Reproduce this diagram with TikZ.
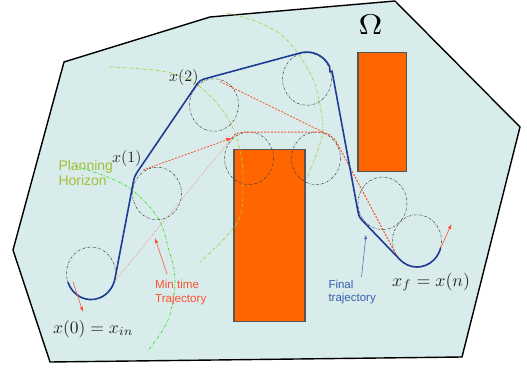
\documentclass[tikz,border=0pt]{standalone}
\usepackage{graphicx}
\usepackage{fontspec}
\newfontfamily\labfont{Liberation Sans}
\usetikzlibrary{arrows.meta,calc}
\definecolor{domfill}{RGB}{216,236,236}
\definecolor{obst}{RGB}{255,102,0}
\definecolor{obstborder}{RGB}{85,85,85}
\definecolor{trajblue}{RGB}{30,60,150}
\definecolor{labblue}{RGB}{55,95,175}
\definecolor{minred}{RGB}{255,80,45}
\definecolor{minredlight}{RGB}{255,125,100}
\definecolor{horgreen}{RGB}{170,205,60}
\definecolor{brightgreen}{RGB}{60,225,40}
\definecolor{plantext}{RGB}{165,190,55}
\tikzset{
  domainpoly/.style={draw=black, line width=1.4pt, fill=domfill, line join=miter},
  obstacle/.style={draw=obstborder, line width=1.1pt, fill=obst},
  turncircle/.style={draw=black!75, line width=0.55pt, dash pattern=on 2.2pt off 1.3pt on 0.5pt off 1.3pt},
  finaltraj/.style={draw=trajblue, line width=1.6pt, line cap=round, line join=round},
  mintraj/.style={draw=minred, line width=0.8pt, dash pattern=on 2pt off 1.4pt},
  mintrajfaint/.style={draw=minredlight, line width=0.6pt, dash pattern=on 1pt off 1.5pt},
  horizonarc/.style={draw=horgreen, line width=0.7pt, dash pattern=on 3pt off 1.5pt on 0.6pt off 1.5pt},
  horizonbright/.style={draw=brightgreen, line width=0.7pt, dash pattern=on 3pt off 1.5pt on 0.6pt off 1.5pt},
  redarrow/.style={draw=minred, line width=0.6pt, -{Latex[length=5pt,width=3.5pt]}},
  bluearrow/.style={draw=labblue, line width=0.5pt, -{Latex[length=4pt,width=3pt]}},
  mathlabel/.style={inner sep=0pt, anchor=base west, text=black!85, font=\fontsize{10}{12}\selectfont},
  textlabel/.style={inner sep=0pt, anchor=north west, align=left},
}
\begin{document}
\begin{tikzpicture}[x=1pt,y=-1pt]
\useasboundingbox (0,0) rectangle (527,371);
% domain
\draw[domainpoly] (64,62) -- (210,17) -- (395,1) -- (520,127) -- (462,357) -- (50,362) -- (13,250) -- cycle;
% obstacles
\draw[obstacle] (234,149.3) rectangle (305,321.7);
\draw[obstacle] (358,52.3) rectangle (406.7,171.7);
% circle centres
\coordinate (c0) at (91,273.3);
\coordinate (c1) at (157,193.5);
\coordinate (c2) at (214,105);
\coordinate (c3) at (307,79);
\coordinate (c4) at (249,158.3);
\coordinate (c5) at (316,158.3);
\coordinate (c6) at (382.5,203.3);
\coordinate (c7) at (417,241);
% planning horizon arcs
\draw[horizonbright] plot[smooth, tension=0.6] coordinates {(75,166) (105,176) (132,190) (158,218) (168,247) (175,280) (168,320) (147,352)};
\draw[horizonarc] plot[smooth, tension=0.6] coordinates {(110,67) (167,72) (200,87) (227,117) (240,150) (243,187) (237,223) (200,262)};
\draw[horizonarc] plot[smooth, tension=0.6] coordinates {(227,13) (260,23) (287,40) (312,77) (322,117) (321,140) (307,178)};
% turning circles
\foreach \c in {c0,c1,c2,c3,c4,c5,c6,c7}
  \draw[turncircle] (\c) ellipse[x radius=24.5, y radius=26.3];
% min time trajectories
\coordinate (mthead) at (232,138);
\draw[mintrajfaint] (114,282) -- (mthead);
\draw[mintraj] (143,170) -- (mthead);
\fill[minred] (mthead) -- ++(-6.5,0.2) -- ++(1.8,3.2) -- cycle;
\draw[mintraj] (220,81.5) -- (323,132);
\draw[mintraj, line width=1pt] (mthead) .. controls (235,133.5) and (238,132.5) .. (245,132.2)
  -- (318,132) .. controls (327,132) and (333,136) .. (337,143)
  -- ($(c7)+(150:24.5 and 26)$) arc[start angle=150, end angle=17, x radius=24.5, y radius=26];
\coordinate (blueend) at ($(c7)+(17:24.5 and 26)$);
\coordinate (redtip) at (451.5,224);
\draw[redarrow] (blueend) -- (redtip);
% final trajectory
\draw[finaltraj] ($(c0)+(160:24.5 and 26.3)$) arc[start angle=160, end angle=11.5, x radius=24.5, y radius=26.3]
  -- (132.9,184.4) .. controls (134.4,176.5) .. (138.8,169.8)
  -- (194,88.6) .. controls (199.5,80.2) .. (209.2,77.6)
  -- ($(c3)+(255.7:25.5 and 27)$) arc[start angle=255.7, end angle=332, x radius=25.5, y radius=27]
  -- (330,72) -- (332,71)
  -- (357.7,210.1) .. controls (359,217) .. (363.9,222.1)
  -- ($(c7)+(136:24.5 and 26)$) arc[start angle=136, end angle=17, x radius=24.5, y radius=26];
% labels
\node[inner sep=0pt, anchor=base, font=\fontsize{10}{12}\selectfont] (omegalab) at (370.5,34.3) {\scalebox{3.3}[2.85]{$\Omega$}};
\node[mathlabel] (x0lab) at (53,333.3) {\scalebox{1.75}{$x(0) = x_{in}$}};
\node[mathlabel] (xflab) at (392,286) {\scalebox{1.78}{$x_f = x(n)$}};
\node[mathlabel] (x1lab) at (112,162.5) {\scalebox{1.58}{$x(1)$}};
\node[mathlabel] (x2lab) at (169,82) {\scalebox{1.58}{$x(2)$}};
\node[textlabel, text=plantext, font=\labfont\fontsize{14}{14.3}\selectfont] (planlab) at (58.3,160.5) {Planning\\Horizon};
\node[textlabel, text=minred, font=\labfont\fontsize{11.6}{13.4}\selectfont] (mtlab) at (155,280) {Min time\\Trajectory};
\node[textlabel, text=labblue, font=\labfont\fontsize{11.5}{13.4}\selectfont] (ftlab) at (328.3,280) {Final\\trajectory};
% label arrows
\coordinate (x0start) at (73,282);
\coordinate (x0tip) at (83,312);
\draw[redarrow] (x0start) -- (x0tip);
\coordinate (mtstart) at ($(mtlab.north west)+(12,-6)$);
\coordinate (mttip) at (155,238);
\draw[redarrow] (mtstart) -- (mttip);
\coordinate (ftstart) at ($(ftlab.north west)+(33.2,-3)$);
\coordinate (fttip) at (366,235);
\draw[bluearrow] (ftstart) -- (fttip);
\end{tikzpicture}
\end{document}
